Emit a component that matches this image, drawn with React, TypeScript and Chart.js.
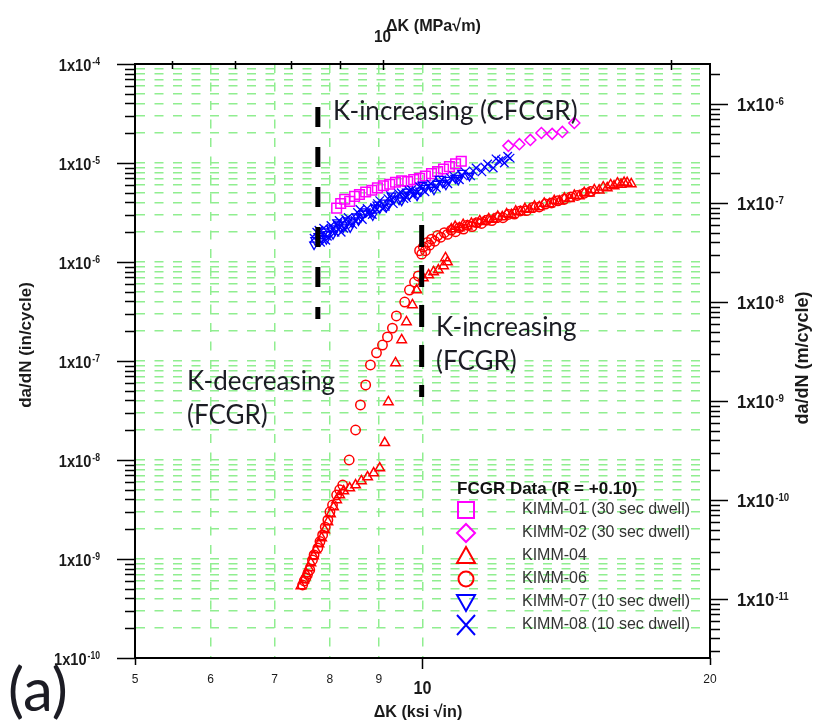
import React, { useEffect, useRef } from "react";
import { Chart, registerables } from "chart.js";

Chart.register(...registerables);

// ---------------- data (ΔK in ksi√in, da/dN in in/cycle) ----------------
const kimm01X = [8.13, 8.21, 8.29, 8.39, 8.49, 8.59, 8.72, 8.85, 8.97, 9.1, 9.24, 9.37, 9.51, 9.65, 9.79, 9.93, 10.07, 10.22, 10.37, 10.52, 10.67, 10.83, 10.98];
const kimm01Y = [3.5e-6, 3.9e-6, 4.3e-6, 4.1e-6, 4.6e-6, 4.8e-6, 5.1e-6, 5.3e-6, 5.6e-6, 5.9e-6, 6.1e-6, 6.4e-6, 6.6e-6, 6.5e-6, 6.8e-6, 7.0e-6, 7.4e-6, 7.8e-6, 8.2e-6, 8.7e-6, 9.2e-6, 9.8e-6, 1.04e-5];

const kimm02X = [12.3, 12.63, 12.97, 13.32, 13.67, 14.01, 14.42];
const kimm02Y = [1.49e-5, 1.55e-5, 1.71e-5, 2.01e-5, 1.97e-5, 2.06e-5, 2.54e-5];

const kimm04X = [
  7.46, 7.51, 7.56, 7.6, 7.64, 7.69, 7.73, 7.79, 7.84, 7.9, 7.96, 8.01, 8.07, 8.13, 8.19, 8.27, 8.39, 8.51, 8.63, 8.76, 8.89, 9.02,
  9.13, 9.21, 9.37, 9.51, 9.62, 9.76, 9.86,
  10.02, 10.15, 10.27, 10.39, 10.52, 10.62, 10.57,
  10.72, 10.82, 10.93, 11.03, 11.14, 11.25, 11.36, 11.48, 11.61, 11.73, 11.86, 11.99, 12.12, 12.25, 12.39, 12.52, 12.66, 12.8, 12.94, 13.1, 13.25, 13.41, 13.58, 13.74, 13.91, 14.08, 14.25, 14.42, 14.59, 14.77, 14.95, 15.13, 15.31, 15.46, 15.61, 15.74, 15.87, 16.0, 16.14, 16.26, 16.38, 16.54,
];
const kimm04Y = [
  5.33e-10, 6.14e-10, 7.05e-10, 8.11e-10, 9.12e-10, 1.07e-9, 1.23e-9, 1.42e-9, 1.63e-9, 1.96e-9, 2.37e-9, 2.85e-9, 3.35e-9, 3.95e-9, 4.43e-9, 4.86e-9, 5.21e-9, 5.59e-9, 6.14e-9, 6.73e-9, 7.39e-9, 8.3e-9,
  1.49e-8, 3.86e-8, 9.55e-8, 1.63e-7, 2.48e-7, 3.68e-7, 5.21e-7,
  6.89e-7, 7.39e-7, 7.93e-7, 8.3e-7, 9.12e-7, 1.0e-6, 1.1e-6,
  2.15e-6, 2.28e-6, 2.2e-6, 2.38e-6, 2.3e-6, 2.45e-6, 2.42e-6, 2.6e-6, 2.55e-6, 2.72e-6, 2.68e-6, 2.88e-6, 2.85e-6, 3.05e-6, 3.0e-6, 3.25e-6, 3.2e-6, 3.45e-6, 3.4e-6, 3.65e-6, 3.6e-6, 3.9e-6, 3.85e-6, 4.15e-6, 4.1e-6, 4.4e-6, 4.35e-6, 4.7e-6, 4.65e-6, 5.0e-6, 4.95e-6, 5.35e-6, 5.3e-6, 5.7e-6, 5.6e-6, 6.0e-6, 5.85e-6, 6.25e-6, 6.05e-6, 6.35e-6, 6.3e-6, 6.15e-6,
];

const kimm06X = [
  7.49, 7.52, 7.55, 7.58, 7.62, 7.67, 7.7, 7.77, 7.81, 7.86, 7.91, 7.96, 8.0, 8.05, 8.13, 8.19, 8.25,
  8.38, 8.51, 8.61, 8.72, 8.82, 8.95, 9.08, 9.19, 9.3, 9.39, 9.58, 9.69, 9.81, 9.9,
  9.93, 9.98, 10.02, 10.07, 10.12, 10.17, 10.22, 10.3, 10.37, 10.45, 10.54, 10.62, 10.72, 10.83, 10.93, 11.04, 11.14, 11.27, 11.4, 11.53, 11.67, 11.82, 11.98, 12.14, 12.3, 12.48, 12.66, 12.85, 13.05, 13.25, 13.45, 13.65, 13.86, 14.07, 14.3, 14.52, 14.77, 15.0,
];
const kimm06Y = [
  5.46e-10, 6.0e-10, 6.43e-10, 7.0e-10, 7.75e-10, 9.77e-10, 1.1e-9, 1.29e-9, 1.5e-9, 1.75e-9, 2.1e-9, 2.48e-9, 3.0e-9, 3.51e-9, 4.43e-9, 5.0e-9, 5.59e-9,
  1.0e-8, 2.01e-8, 3.6e-8, 5.73e-8, 9.12e-8, 1.21e-7, 1.45e-7, 1.75e-7, 2.15e-7, 2.85e-7, 3.94e-7, 5.21e-7, 6.28e-7, 7.23e-7,
  1.3e-6, 1.2e-6, 1.42e-6, 1.3e-6, 1.58e-6, 1.48e-6, 1.7e-6, 1.62e-6, 1.85e-6, 1.78e-6, 1.98e-6, 1.9e-6, 2.1e-6, 2.02e-6, 2.22e-6, 2.15e-6, 2.35e-6, 2.28e-6, 2.5e-6, 2.45e-6, 2.65e-6, 2.62e-6, 2.82e-6, 2.8e-6, 3.02e-6, 3.05e-6, 3.28e-6, 3.3e-6, 3.55e-6, 3.6e-6, 3.85e-6, 3.95e-6, 4.15e-6, 4.3e-6, 4.55e-6, 4.7e-6, 4.95e-6, 5.15e-6,
];

const kimm07X = [7.7, 7.72, 7.78, 7.81, 7.84, 7.9, 7.93, 7.96, 8.02, 8.06, 8.1, 8.14, 8.18, 8.26, 8.3, 8.35, 8.4, 8.44, 8.53, 8.57, 8.62, 8.67, 8.72, 8.82, 8.87, 8.92, 8.97, 9.02, 9.12, 9.17, 9.23, 9.28, 9.34, 9.45, 9.51, 9.57, 9.63, 9.69, 9.81, 9.87, 9.94, 10.0, 10.07, 10.2, 10.28, 10.35, 10.42, 10.5, 10.58, 10.66, 10.82, 10.9, 11.0, 11.2];
const kimm07Y = [1.5e-6, 1.66e-6, 1.82e-6, 1.62e-6, 1.74e-6, 2.04e-6, 1.7e-6, 1.91e-6, 2.19e-6, 1.91e-6, 2.09e-6, 2.51e-6, 2.4e-6, 2.24e-6, 2.34e-6, 2.63e-6, 2.24e-6, 2.51e-6, 2.88e-6, 2.63e-6, 2.82e-6, 3.09e-6, 3.24e-6, 3.16e-6, 2.95e-6, 3.55e-6, 3.8e-6, 3.47e-6, 3.98e-6, 3.63e-6, 3.89e-6, 4.68e-6, 4.37e-6, 4.27e-6, 4.17e-6, 4.68e-6, 5.13e-6, 4.79e-6, 5.01e-6, 4.68e-6, 5.25e-6, 6.03e-6, 5.62e-6, 5.75e-6, 5.37e-6, 6.17e-6, 6.92e-6, 6.31e-6, 6.03e-6, 6.76e-6, 7.08e-6, 6.76e-6, 7.94e-6, 7.41e-6];

const kimm08X = [7.7, 7.75, 7.79, 7.82, 7.88, 7.92, 7.95, 8.02, 8.06, 8.1, 8.14, 8.18, 8.22, 8.27, 8.31, 8.36, 8.45, 8.5, 8.55, 8.6, 8.65, 8.75, 8.8, 8.86, 8.91, 8.97, 9.02, 9.08, 9.14, 9.2, 9.26, 9.32, 9.44, 9.5, 9.56, 9.62, 9.68, 9.74, 9.8, 9.87, 9.93, 10.06, 10.13, 10.2, 10.34, 10.41, 10.48, 10.63, 10.7, 10.78, 10.93, 11.0, 11.08, 11.23, 11.3, 11.38, 11.54, 11.62, 11.7, 11.86, 11.94, 12.02, 12.1, 12.18, 12.28, 12.35];
const kimm08Y = [1.74e-6, 2.0e-6, 2.09e-6, 1.58e-6, 2.19e-6, 1.66e-6, 1.82e-6, 2.34e-6, 2.19e-6, 2.0e-6, 2.4e-6, 2.63e-6, 2.0e-6, 2.19e-6, 2.69e-6, 2.82e-6, 2.4e-6, 2.63e-6, 3.16e-6, 3.39e-6, 2.69e-6, 3.47e-6, 3.09e-6, 3.02e-6, 3.55e-6, 3.89e-6, 4.17e-6, 3.47e-6, 3.63e-6, 4.37e-6, 4.68e-6, 3.89e-6, 4.9e-6, 5.01e-6, 4.37e-6, 4.47e-6, 5.25e-6, 5.37e-6, 4.79e-6, 5.01e-6, 5.75e-6, 5.13e-6, 5.75e-6, 6.17e-6, 5.62e-6, 6.31e-6, 6.76e-6, 6.17e-6, 7.08e-6, 7.41e-6, 6.76e-6, 7.59e-6, 8.13e-6, 7.41e-6, 8.32e-6, 8.91e-6, 8.13e-6, 9.12e-6, 9.77e-6, 8.91e-6, 1.1e-5, 1.05e-5, 1.07e-5, 1.0e-5, 1.17e-5, 1.12e-5];

// regime boundary markers (black dashed)
const cfcgrBoundaryX = [7.77, 7.77];
const cfcgrBoundaryY = [3.68e-5, 2.65e-7];
const fcgrBoundaryX = [9.98, 9.98];
const fcgrBoundaryY = [2.37e-6, 4.33e-8];

// ---------------- axes ----------------
const MPA_PER_KSI = 1.0988;
const M_PER_IN = 0.0254;
const xMin = 5;
const xMax = 20;
const yMin = 1e-10;
const yMax = 1e-4;
const leftDecades = [-10, -9, -8, -7, -6, -5, -4];
const rightDecades = [-11, -10, -9, -8, -7, -6];
const mantissas = [1, 2, 3, 4, 5, 6, 7, 8, 9];
const xGridValues = [6, 7, 8, 9, 10];
const xSmallLabels = ["5", "6", "7", "8", "9", "20"];
const xSmallLabelValues = [5, 6, 7, 8, 9, 20];
const topTickValues = [6, 7, 8, 9, 10, 20];

const legendNames = ["KIMM-01 (30 sec dwell)", "KIMM-02 (30 sec dwell)", "KIMM-04", "KIMM-06", "KIMM-07 (10 sec dwell)", "KIMM-08 (10 sec dwell)"];
const legendColors = ["#ff00ff", "#ff00ff", "#ff0000", "#ff0000", "#0000ff", "#0000ff"];
const legendShapes = ["square", "diamond", "triangle", "circle", "down", "cross"];

const ARIAL = '"Liberation Sans", Arial, sans-serif';
const LATO = 'Lato, "Open Sans", sans-serif';

function pts(xs: number[], ys: number[]) {
  return xs.map((x, i) => ({ x, y: ys[i] }));
}

function tickList(decades: number[], lo: number, hi: number) {
  const out: { v: number; major: boolean }[] = [];
  for (let e = decades[0] - 1; e <= decades[decades.length - 1] + 1; e++) {
    for (const m of mantissas) {
      const v = m * Math.pow(10, e);
      if (v >= lo * 0.9999 && v <= hi * 1.0001) out.push({ v, major: m === 1 });
    }
  }
  return out;
}

// condensed bold text (narrow look) via horizontal scaling
function narrowText(ctx: CanvasRenderingContext2D, text: string, x: number, y: number, size: number, squeeze: number, align: "left" | "center" | "right") {
  ctx.save();
  ctx.font = `bold ${size}px ${ARIAL}`;
  const w = ctx.measureText(text).width * squeeze;
  let x0 = x;
  if (align === "center") x0 = x - w / 2;
  if (align === "right") x0 = x - w;
  ctx.translate(x0, y);
  ctx.scale(squeeze, 1);
  ctx.textAlign = "left";
  ctx.fillText(text, 0, 0);
  ctx.restore();
  return w;
}

function drawPow(ctx: CanvasRenderingContext2D, x: number, y: number, exp: number, align: "left" | "right", baseSize: number, expSize: number, squeeze: number) {
  const base = "1x10";
  const e = String(exp);
  ctx.font = `bold ${baseSize}px ${ARIAL}`;
  const bw = ctx.measureText(base).width * squeeze;
  ctx.font = `bold ${expSize}px ${ARIAL}`;
  const ew = ctx.measureText(e).width * squeeze;
  const x0 = align === "right" ? x - bw - ew - 1 : x;
  ctx.textBaseline = "alphabetic";
  narrowText(ctx, base, x0, y, baseSize, squeeze, "left");
  narrowText(ctx, e, x0 + bw + 1, y - 6, expSize, squeeze, "left");
}

function legendMarker(ctx: CanvasRenderingContext2D, shape: string, x: number, y: number, color: string) {
  ctx.save();
  ctx.strokeStyle = color;
  ctx.lineWidth = 2;
  ctx.beginPath();
  const s = 8;
  if (shape === "square") {
    ctx.rect(x - s, y - s, 2 * s, 2 * s);
  } else if (shape === "diamond") {
    ctx.moveTo(x, y - 9);
    ctx.lineTo(x + 9, y);
    ctx.lineTo(x, y + 9);
    ctx.lineTo(x - 9, y);
    ctx.closePath();
  } else if (shape === "triangle") {
    ctx.moveTo(x, y - 9);
    ctx.lineTo(x + 9, y + 7);
    ctx.lineTo(x - 9, y + 7);
    ctx.closePath();
  } else if (shape === "down") {
    ctx.moveTo(x - 9, y - 7);
    ctx.lineTo(x + 9, y - 7);
    ctx.lineTo(x, y + 9);
    ctx.closePath();
  } else if (shape === "circle") {
    ctx.arc(x, y, 7.5, 0, Math.PI * 2);
  } else {
    ctx.moveTo(x - 9, y - 10);
    ctx.lineTo(x + 9, y + 10);
    ctx.moveTo(x + 9, y - 10);
    ctx.lineTo(x - 9, y + 10);
  }
  ctx.stroke();
  ctx.restore();
}

const decorPlugin = {
  id: "decor",
  afterDraw(chart: any) {
    const ctx: CanvasRenderingContext2D = chart.ctx;
    const { left, right, top, bottom } = chart.chartArea;
    const sx = chart.scales.x;
    const sx2 = chart.scales.x2;
    const sy = chart.scales.y;
    const sy2 = chart.scales.y2;
    ctx.save();

    // axis ticks
    ctx.strokeStyle = "#000";
    ctx.lineWidth = 1.5;
    ctx.beginPath();
    for (const t of tickList(leftDecades, yMin, yMax)) {
      const p = Math.round(sy.getPixelForValue(t.v)) + 0.5;
      ctx.moveTo(left - (t.major ? 18 : 10), p);
      ctx.lineTo(left, p);
    }
    for (const t of tickList(rightDecades, yMin * M_PER_IN, yMax * M_PER_IN)) {
      const p = Math.round(sy2.getPixelForValue(t.v)) + 0.5;
      ctx.moveTo(right, p);
      ctx.lineTo(right + (t.major ? 18 : 10), p);
    }
    for (const v of [5, 10, 20]) {
      const p = Math.round(sx.getPixelForValue(v)) + 0.5;
      ctx.moveTo(p, bottom);
      ctx.lineTo(p, bottom + (v === 10 ? 11 : 7));
    }
    for (const v of topTickValues) {
      const p = Math.round(sx2.getPixelForValue(v)) + 0.5;
      const big = v === 10 || v === 20;
      ctx.moveTo(p, top - (big ? 4 : 3));
      ctx.lineTo(p, top + (big ? 6 : 5));
    }
    ctx.stroke();

    // left / right tick labels
    ctx.fillStyle = "#1a1a1a";
    for (const e of leftDecades) {
      const p = sy.getPixelForValue(Math.pow(10, e));
      drawPow(ctx, 100, p + 7, e, "right", 17, 10, 0.86);
    }
    for (const e of rightDecades) {
      const p = sy2.getPixelForValue(Math.pow(10, e));
      drawPow(ctx, 737, p + 7, e, "left", 19, 11, 0.88);
    }

    // bottom tick labels
    ctx.textAlign = "center";
    ctx.textBaseline = "middle";
    ctx.font = `12px ${ARIAL}`;
    xSmallLabels.forEach((lab, i) => {
      ctx.fillText(lab, sx.getPixelForValue(xSmallLabelValues[i]), 680);
    });
    ctx.textBaseline = "middle";
    narrowText(ctx, "10", sx.getPixelForValue(10), 689, 18, 0.9, "center");
    narrowText(ctx, "\u0394K (ksi \u221Ain)", 418, 712, 17, 0.95, "center");

    // top axis label
    narrowText(ctx, "10", sx2.getPixelForValue(10) - 1, 37, 17, 0.9, "center");
    narrowText(ctx, "\u0394K (MPa\u221Am)", 386, 26, 17, 0.95, "left");

    // axis titles
    ctx.save();
    ctx.translate(26, 345);
    ctx.rotate(-Math.PI / 2);
    ctx.textAlign = "center";
    ctx.textBaseline = "middle";
    ctx.font = `bold 17px ${ARIAL}`;
    ctx.fillText("da/dN (in/cycle)", 0, 0);
    ctx.restore();
    ctx.save();
    ctx.translate(803, 358);
    ctx.rotate(-Math.PI / 2);
    ctx.textAlign = "center";
    ctx.textBaseline = "middle";
    ctx.font = `bold 18px ${ARIAL}`;
    ctx.fillText("da/dN (m/cycle)", 0, 0);
    ctx.restore();

    // annotations
    ctx.fillStyle = "#1c1c24";
    ctx.textAlign = "left";
    ctx.textBaseline = "alphabetic";
    ctx.font = `26px ${LATO}`;
    ctx.fillText("K-increasing (CFCGR)", 333, 120);
    ctx.fillText("K-increasing", 436, 336);
    ctx.fillText("(FCGR)", 436, 370);
    ctx.fillText("K-decreasing", 187, 390);
    ctx.fillText("(FCGR)", 187, 424);
    ctx.font = `60px ${LATO}`;
    ctx.fillText("(a)", 8, 711);

    // legend
    ctx.fillStyle = "#111";
    ctx.textBaseline = "middle";
    ctx.font = `bold 17px ${ARIAL}`;
    ctx.fillText("FCGR Data (R = +0.10)", 457, 489);
    ctx.font = `16px ${ARIAL}`;
    ctx.fillStyle = "#333";
    legendNames.forEach((name, i) => {
      const y = 510 + i * 23;
      legendMarker(ctx, legendShapes[i], 466, y, legendColors[i]);
      ctx.fillText(name, 522, y);
    });

    ctx.restore();
  },
};

export default function App() {
  const ref = useRef<HTMLCanvasElement | null>(null);

  useEffect(() => {
    if (!ref.current) return;
    const yTicks = tickList(leftDecades, yMin, yMax).map((t) => ({ value: t.v }));
    const none = "rgba(0,0,0,0)";
    const chart = new Chart(ref.current, {
      type: "scatter",
      data: {
        datasets: [
          { label: "b1", data: pts(cfcgrBoundaryX, cfcgrBoundaryY), showLine: true, borderColor: "#000", borderWidth: 5, borderDash: [20, 20], borderCapStyle: "butt", pointRadius: 0, order: 0 },
          { label: "b2", data: pts(fcgrBoundaryX, fcgrBoundaryY), showLine: true, borderColor: "#000", borderWidth: 5, borderDash: [22, 18], borderCapStyle: "butt", pointRadius: 0, order: 0 },
          { label: legendNames[5], data: pts(kimm08X, kimm08Y), pointStyle: "crossRot", pointRadius: 6, pointBorderColor: "#0000ff", pointBackgroundColor: none, pointBorderWidth: 1.3, order: 1 },
          { label: legendNames[4], data: pts(kimm07X, kimm07Y), pointStyle: "triangle", pointRotation: 180, pointRadius: 5, pointBorderColor: "#0000ff", pointBackgroundColor: none, pointBorderWidth: 1.3, order: 2 },
          { label: legendNames[0], data: pts(kimm01X, kimm01Y), pointStyle: "rect", pointRadius: 6.8, pointBorderColor: "#ff00ff", pointBackgroundColor: none, pointBorderWidth: 1.5, order: 3 },
          { label: legendNames[1], data: pts(kimm02X, kimm02Y), pointStyle: "rectRot", pointRadius: 5.5, pointBorderColor: "#ff00ff", pointBackgroundColor: none, pointBorderWidth: 1.5, order: 3 },
          { label: legendNames[2], data: pts(kimm04X, kimm04Y), pointStyle: "triangle", pointRadius: 5.5, pointBorderColor: "#ff0000", pointBackgroundColor: none, pointBorderWidth: 1.5, order: 4 },
          { label: legendNames[3], data: pts(kimm06X, kimm06Y), pointStyle: "circle", pointRadius: 4.7, pointBorderColor: "#ff0000", pointBackgroundColor: none, pointBorderWidth: 1.5, order: 5 },
        ] as any,
      },
      options: {
        animation: false,
        responsive: false,
        devicePixelRatio: 1,
        events: [],
        layout: { padding: { left: 135, right: 103, top: 64, bottom: 69 } },
        plugins: { legend: { display: false }, tooltip: { enabled: false } },
        scales: {
          x: {
            type: "logarithmic",
            position: "bottom",
            min: xMin,
            max: xMax,
            ticks: { display: false },
            afterBuildTicks: (axis: any) => {
              axis.ticks = xGridValues.map((v) => ({ value: v }));
            },
            grid: { display: true, drawTicks: false, color: "#90ee90", lineWidth: 1.5 },
            border: { display: true, color: "#000", width: 2, dash: [9, 9.5] },
          },
          x2: {
            type: "logarithmic",
            position: "top",
            min: xMin * MPA_PER_KSI,
            max: xMax * MPA_PER_KSI,
            ticks: { display: false },
            grid: { display: false, drawTicks: false },
            border: { display: true, color: "#000", width: 2 },
          },
          y: {
            type: "logarithmic",
            position: "left",
            min: yMin,
            max: yMax,
            ticks: { display: false },
            afterBuildTicks: (axis: any) => {
              axis.ticks = yTicks.slice();
            },
            grid: { display: true, drawTicks: false, color: "#90ee90", lineWidth: 1.5 },
            border: { display: true, color: "#000", width: 2, dash: [9, 9.5] },
          },
          y2: {
            type: "logarithmic",
            position: "right",
            min: yMin * M_PER_IN,
            max: yMax * M_PER_IN,
            ticks: { display: false },
            grid: { display: false, drawTicks: false },
            border: { display: true, color: "#000", width: 2 },
          },
        },
      } as any,
      plugins: [decorPlugin],
    });
    return () => chart.destroy();
  }, []);

  return (
    <div style={{ position: "fixed", left: 0, top: 0, width: 813, height: 727, background: "#fff" }}>
      <canvas ref={ref} width={813} height={727} style={{ display: "block", width: 813, height: 727 }} />
    </div>
  );
}
